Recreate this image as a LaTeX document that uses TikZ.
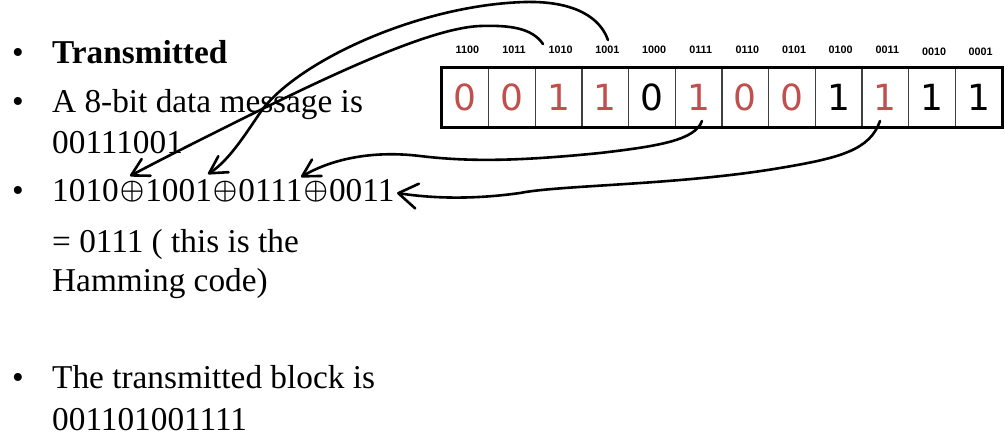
\documentclass[tikz,border=0pt]{standalone}
\usepackage{fontspec}
\usepackage{graphicx}
\setmainfont{Liberation Serif}
\newfontfamily\cellfont{DejaVu Sans}
\newfontfamily\labfont{Liberation Sans}
\usetikzlibrary{arrows.meta}
\definecolor{bitred}{RGB}{192,80,77}
\newcommand{\xorsym}{\hspace{1pt}\raisebox{2.5pt}{\resizebox{24.5pt}{!}{\boldmath$\oplus$}}\hspace{1pt}}
\begin{document}
\begin{tikzpicture}[x=1pt,y=-1pt,
  txt/.style={anchor=base west,inner sep=0pt,font=\fontsize{33.3}{40}\selectfont},
  bul/.style={anchor=base,inner sep=0pt,font=\fontsize{33.3}{40}\selectfont},
  cell/.style={draw=black!75,line width=1.5pt,minimum width=46.67pt,minimum height=59pt,inner sep=0pt,font=\cellfont\fontsize{36}{36}\selectfont},
  lab/.style={anchor=base,inner sep=0pt,font=\labfont\bfseries\fontsize{10.8}{12}\selectfont},
  arr/.style={line width=2.6pt,line cap=round,-{Straight Barb[length=17pt,width=19pt,round]}},
  bigarr/.style={line width=2.6pt,line cap=round,-{Straight Barb[length=19pt,width=25pt,round]}}]
\useasboundingbox (0,0) rectangle (1005,440);
% bullets
\node[bul] (b1) at (18,63) {•};
\node[bul] (b2) at (18,112) {•};
\node[bul] (b3) at (18,201) {•};
\node[bul] (b4) at (18,388) {•};
% text lines
\node[txt] (t1) at (52,63) {\textbf{Transmitted}};
\node[txt] (t2) at (52,112) {A 8-bit data message is};
\node[txt] (t3) at (52,153) {00111001};
\node[txt] (t4) at (52,201) {1010\xorsym1001\xorsym0111\xorsym0011};
\node[txt] (t5) at (52,252) {= 0111 ( this is the};
\node[txt] (t6) at (52,291) {Hamming code)};
\node[txt] (t7) at (52,388) {The transmitted block is};
\node[txt] (t8) at (52,430) {001101001111};
% cells
\foreach \i/\d/\c in {1/0/bitred,2/0/bitred,3/1/bitred,4/1/bitred,5/0/black,6/1/bitred,7/0/bitred,8/0/bitred,9/1/black,10/1/bitred,11/1/black,12/1/black}{
  \node[cell,text=\c] (c\i) at ({442+(\i-0.5)*46.67},97.5) {\d};
}
\draw[line width=3pt] (c1.north west) rectangle (c12.south east);
% labels
\foreach \i/\l/\dy in {1/1100/0,2/1011/0,3/1010/0,4/1001/0,5/1000/0,6/0111/0,7/0110/0,8/0101/0,9/0100/0,10/0011/0,11/0010/2,12/0001/2}{
  \node[lab] (l\i) at ({442+(\i-0.5)*46.67+2},53+\dy) {\l};
}
% connector ends
\coordinate (s3) at (543,44);
\coordinate (s4) at (608,40);
\coordinate (s6) at (702,121);
\coordinate (s10) at (880,121);
\coordinate (e3) at (130,176);
\coordinate (e4) at (208,174);
\coordinate (e6) at (301,177);
\coordinate (e10) at (397,193);
% connectors
\draw[arr] (s3) .. controls (532,28) and (510,25) .. (480,26)
  .. controls (430,28) and (330,75) .. (230,125)
  .. controls (190,145) and (160,160) .. (e3);
\draw[arr] (s4) .. controls (598,12) and (565,1) .. (525,2)
  .. controls (420,5) and (300,60) .. (262,110)
  .. controls (248,130) and (230,160) .. (e4);
\draw[arr] (s6) .. controls (695,140) and (660,146) .. (600,153)
  .. controls (520,161) and (470,162) .. (420,156)
  .. controls (370,150) and (330,160) .. (e6);
\draw[bigarr] (s10) .. controls (870,150) and (840,158) .. (780,168)
  .. controls (680,185) and (560,185) .. (520,193)
  .. controls (470,200) and (430,198) .. (e10);
\end{tikzpicture}
\end{document}
